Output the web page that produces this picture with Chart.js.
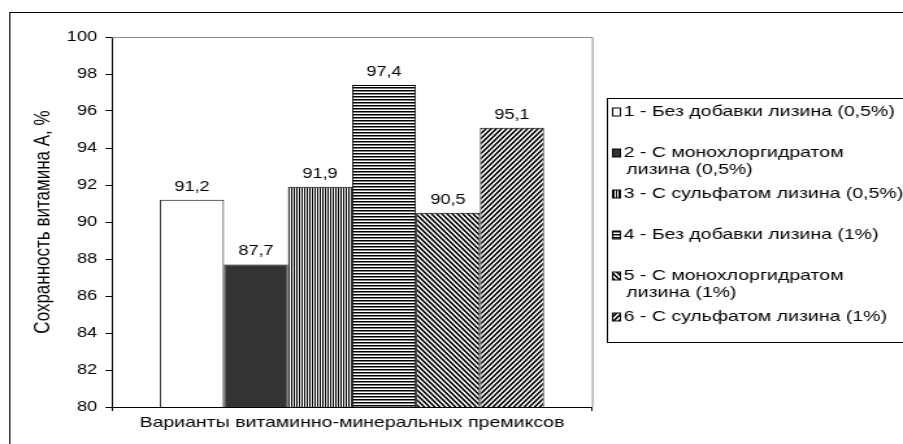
<!DOCTYPE html>
<html>
<head>
<meta charset="utf-8">
<script src="https://cdn.jsdelivr.net/npm/chart.js@4/dist/chart.umd.min.js"></script>
<style>
  html, body { margin: 0; padding: 0; background: #fff; overflow: hidden; }
  /* the original picture is stretched horizontally, so draw narrow and stretch */
  #chart { transform: scaleX(1.2993); transform-origin: 0 0; }
</style>
</head>
<body>
<canvas id="chart" width="695" height="444"></canvas>
<script>
// данные
const categories = ["Варианты"];
const seriesLabels = [
    ["1 - Без добавки лизина (0,5%)"],
    ["2 - С монохлоргидратом", "лизина (0,5%)"],
    ["3 - С сульфатом лизина (0,5%)"],
    ["4 - Без добавки лизина (1%)"],
    ["5 - С монохлоргидратом", "лизина (1%)"],
    ["6 - С сульфатом лизина (1%)"]
];
const values = [91.2, 87.7, 91.9, 97.4, 90.5, 95.1];
const yMin = 80;
const yMax = 100;
const yStep = 2;

// штриховки
function makeTile(w, h, fn) {
    let c = document.createElement("canvas");
    c.width = w;
    c.height = h;
    let ctx = c.getContext("2d");
    let img = ctx.createImageData(w, h);
    for (let y = 0; y < h; y++) {
        for (let x = 0; x < w; x++) {
            // 4x4 subsamples for soft edges
            let dark = 0;
            for (let sy = 0; sy < 4; sy++) {
                for (let sx = 0; sx < 4; sx++) {
                    dark += fn(x + (sx + 0.5) / 4, y + (sy + 0.5) / 4) ? 1 : 0;
                }
            }
            let v = Math.round(255 - (dark / 16) * 255);
            let i = (y * w + x) * 4;
            img.data[i] = v;
            img.data[i + 1] = v;
            img.data[i + 2] = v;
            img.data[i + 3] = 255;
        }
    }
    ctx.putImageData(img, 0, 0);
    return ctx.createPattern(c, "repeat");
}

function frac(v) { return v - Math.floor(v); }

const patVertical = makeTile(2, 1, (x, y) => x < 1);
const patHorizontal = makeTile(1, 3, (x, y) => y < 1.4);
const patBack = makeTile(4, 5, (x, y) => frac(x / 4 - y / 5) < 0.5);
const patForward = makeTile(4, 5, (x, y) => frac(x / 4 + y / 5) < 0.5);

const fills = ["#ffffff", "#333333", patVertical, patHorizontal, patBack, patForward];

function fmt(v) {
    return v.toFixed(1).replace(".", ",");
}

// подписи значений над столбиками
const valueLabels = {
    id: "valueLabels",
    afterDatasetsDraw(chart) {
        let ctx = chart.ctx;
        ctx.save();
        ctx.font = "14px 'Liberation Sans', Arial, sans-serif";
        ctx.fillStyle = "#000";
        ctx.textAlign = "center";
        ctx.textBaseline = "bottom";
        chart.data.datasets.forEach((ds, i) => {
            let bar = chart.getDatasetMeta(i).data[0];
            ctx.fillText(fmt(ds.data[0]), bar.x, bar.y - 6);
        });
        ctx.restore();
    }
};

// серая рамка области построения и внешняя рамка
const frame = {
    id: "frame",
    beforeDatasetsDraw(chart) {
        let ctx = chart.ctx;
        let a = chart.chartArea;
        ctx.save();
        ctx.strokeStyle = "#8c8c8c";
        ctx.lineWidth = 1;
        ctx.beginPath();
        ctx.moveTo(a.left, a.top + 0.5);
        ctx.lineTo(a.right + 0.5, a.top + 0.5);
        ctx.lineTo(a.right + 0.5, a.bottom);
        ctx.stroke();
        ctx.strokeStyle = "#000";
        ctx.strokeRect(7.5, 12.5, 720, 460);
        ctx.restore();
    }
};

// легенда в рамке справа
const boxLegend = {
    id: "boxLegend",
    afterDraw(chart) {
        let ctx = chart.ctx;
        ctx.save();
        ctx.strokeStyle = "#000";
        ctx.lineWidth = 1;
        ctx.strokeRect(467.5, 98.5, 300, 244);
        ctx.font = "15px 'Liberation Sans', Arial, sans-serif";
        ctx.fillStyle = "#000";
        ctx.textAlign = "left";
        ctx.textBaseline = "middle";
        let y = 112;
        seriesLabels.forEach((lines, i) => {
            ctx.fillStyle = fills[i];
            ctx.fillRect(471.5, y - 4, 6, 8);
            ctx.strokeRect(471.5, y - 4, 6, 8);
            ctx.fillStyle = "#000";
            lines.forEach((t, k) => {
                ctx.fillText(t, k === 0 ? 480 : 482, y + k * 17);
            });
            y = lines.length > 1 ? y + 17 + 24 : y + 41;
        });
        ctx.restore();
    }
};

Chart.defaults.font.family = "'Liberation Sans', Arial, sans-serif";
Chart.defaults.font.size = 14;
Chart.defaults.color = "#000";

new Chart(document.getElementById("chart"), {
    type: "bar",
    data: {
        labels: categories,
        datasets: seriesLabels.map((lines, i) => ({
            label: lines.join(" "),
            data: [values[i]],
            backgroundColor: fills[i],
            borderColor: "#000",
            borderWidth: 1,
            categoryPercentage: 0.8,
            barPercentage: 1
        }))
    },
    options: {
        responsive: false,
        animation: false,
        events: [],
        layout: { padding: { left: 0, right: 239.4, top: 37, bottom: 0 } },
        plugins: {
            legend: { display: false },
            tooltip: { enabled: false }
        },
        scales: {
            x: {
                ticks: { display: false },
                grid: { drawOnChartArea: false, tickLength: 4, color: "#000" },
                border: { color: "#000" },
                title: {
                    display: true,
                    text: "Варианты витаминно-минеральных премиксов",
                    font: { size: 15 },
                    padding: { top: 0, bottom: 12 }
                },
                afterFit(scale) { scale.height = 37; }
            },
            y: {
                min: yMin,
                max: yMax,
                ticks: { stepSize: yStep, padding: 6.5 },
                grid: { drawOnChartArea: false, tickLength: 5, color: "#000" },
                border: { color: "#000" },
                title: {
                    display: true,
                    text: "Сохранность витамина А, %",
                    font: { size: 17 },
                    padding: { top: 23, bottom: 0 }
                },
                afterFit(scale) { scale.width = 86.2; }
            }
        }
    },
    plugins: [frame, valueLabels, boxLegend]
});
</script>
</body>
</html>
